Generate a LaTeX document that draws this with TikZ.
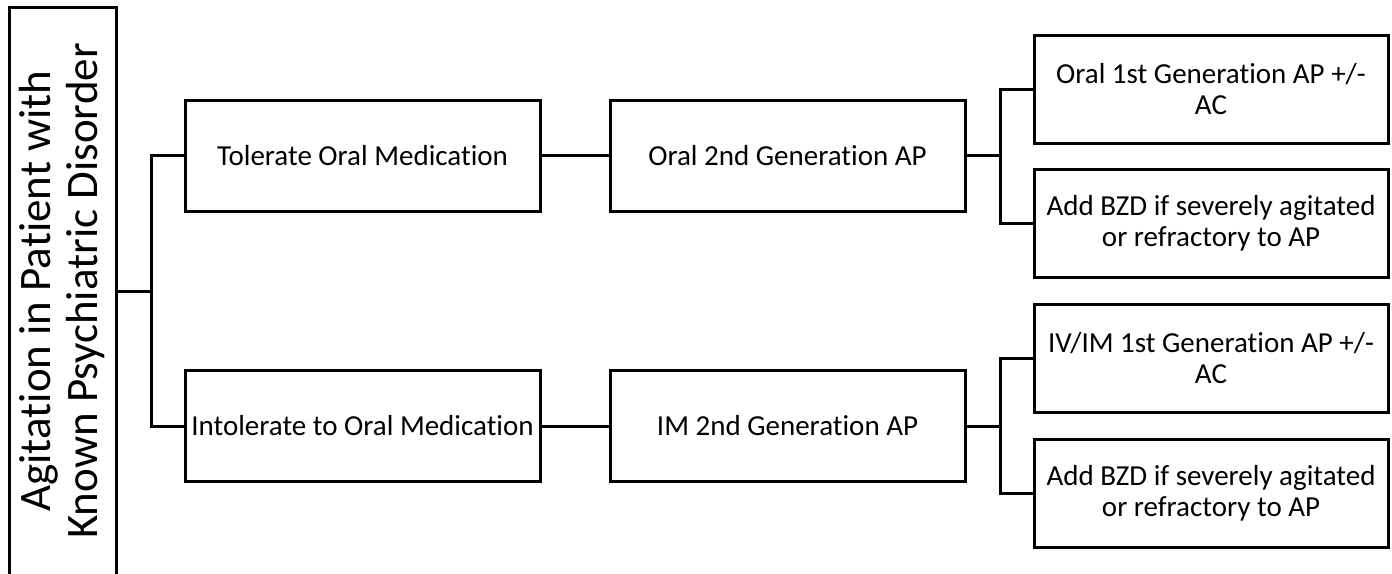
\documentclass[tikz,border=0pt]{standalone}
\usepackage{fontspec}
\setmainfont{Carlito}[Ligatures={NoCommon,NoContextual}, RawFeature={-liga;-clig;-calt;-dlig}]
\begin{document}
\begin{tikzpicture}[x=1pt,y=-1pt,
  box/.style={draw=black, line width=3pt, fill=white, inner sep=0pt, align=center, font=\fontsize{29}{31}\selectfont},
  lvl/.style={box, minimum width=355pt, minimum height=111pt},
  leaf/.style={box, minimum width=354pt, minimum height=108pt},
  rootbox/.style={box, rotate=90, minimum width=568pt, minimum height=107pt, font=\fontsize{45}{47}\selectfont},
  conn/.style={draw=black, line width=3pt}]
\useasboundingbox (0,0) rectangle (1392,573);
\node[rootbox] (root) at (62.5,291) {Agitation in Patient with\\Known Psychiatric Disorder};
\node[lvl] (t1) at (362.5,155.5) {Tolerate Oral Medication};
\node[lvl] (t2) at (787.5,155.5) {Oral 2nd Generation AP};
\node[lvl] (i1) at (362.5,426) {Intolerate to Oral Medication};
\node[lvl] (i2) at (787.5,426) {IM 2nd Generation AP};
\node[leaf] (a1) at (1211,89) {Oral 1st Generation AP +/-\\AC};
\node[leaf] (a2) at (1211,223) {Add BZD if severely agitated\\or refractory to AP};
\node[leaf] (b1) at (1211,358) {IV/IM 1st Generation AP +/-\\AC};
\node[leaf] (b2) at (1211,493) {Add BZD if severely agitated\\or refractory to AP};
\draw[conn] (root.south) -- ++(34,0) |- (t1.west);
\draw[conn] (root.south) -- ++(34,0) |- (i1.west);
\draw[conn] (t1.east) -- (t2.west);
\draw[conn] (i1.east) -- (i2.west);
\draw[conn] (t2.east) -- ++(34,0) |- (a1.west);
\draw[conn] (t2.east) -- ++(34,0) |- (a2.west);
\draw[conn] (i2.east) -- ++(34,0) |- (b1.west);
\draw[conn] (i2.east) -- ++(34,0) |- (b2.west);
\end{tikzpicture}
\end{document}
